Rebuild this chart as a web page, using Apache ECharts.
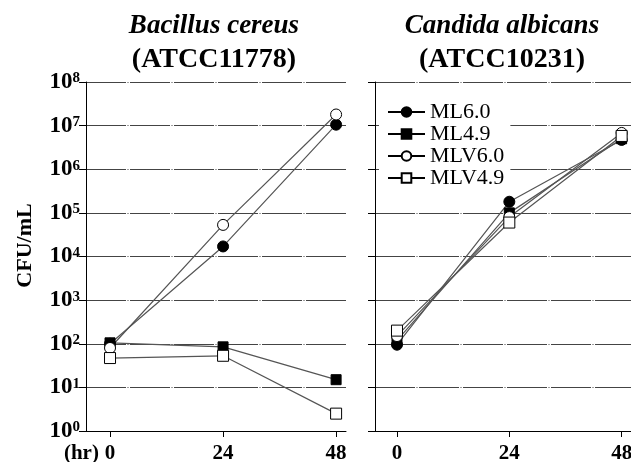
<!DOCTYPE html>
<html>
<head>
<meta charset="utf-8">
<script src="https://cdn.jsdelivr.net/npm/echarts@6/dist/echarts.min.js"></script>
<style>html,body{margin:0;padding:0;background:#fff}#c{width:631px;height:462px}</style>
</head>
<body>
<div id="c"></div>
<script>
var hours = [0, 24, 48];
var seriesNames = ['ML6.0', 'ML4.9', 'MLV6.0', 'MLV4.9'];
var panelTitles = ['Bacillus cereus', 'Candida albicans'];
var panelStrains = ['(ATCC11778)', '(ATCC10231)'];
var tickHours = [0, 24, 48];

// Bacillus cereus (CFU/mL)
var bcML60  = [100, 17000, 10500000];
var bcML49  = [105, 85, 15];
var bcMLV60 = [80, 53000, 18000000];
var bcMLV49 = [47, 53, 2.5];

// Candida albicans (CFU/mL)
var caML60  = [95, 180000, 4700000];
var caML49  = [120, 100000, 5000000];
var caMLV60 = [150, 80000, 6800000];
var caMLV49 = [200, 60000, 5800000];

var FONT = 'Liberation Serif';
var symbols = {
  'ML6.0':  {symbol: 'circle', size: 11, fill: '#000'},
  'ML4.9':  {symbol: 'rect',   size: 10, fill: '#000'},
  'MLV6.0': {symbol: 'circle', size: 11, fill: '#fff'},
  'MLV4.9': {symbol: 'rect',   size: 11, fill: '#fff'}
};

function mk(name, data, idx) {
  var s = symbols[name];
  return {
    name: name, type: 'line', xAxisIndex: idx, yAxisIndex: idx,
    data: hours.map(function (h, i) { return [h, data[i]]; }),
    symbol: s.symbol, symbolSize: s.size,
    lineStyle: {color: '#555', width: 1.2},
    itemStyle: {color: s.fill, borderColor: '#000', borderWidth: 1},
    emphasis: {disabled: true},
    z: 3
  };
}

function yAxis(idx, showLabel) {
  return {
    type: 'log', logBase: 10, min: 1, max: 1e8, interval: 1, gridIndex: idx,
    name: showLabel ? 'CFU/mL' : '', nameLocation: 'middle', nameGap: 50,
    nameTextStyle: {fontFamily: FONT, fontWeight: 'bold', fontSize: 22, color: '#000', padding: [0, 0, 0, 22]},
    axisLine: {show: true, onZero: false, lineStyle: {color: '#000', width: 1}},
    axisTick: {show: true, length: 7, inside: false, lineStyle: {color: '#000'}},
    splitLine: {show: true, lineStyle: {color: '#444', width: 1, type: [40, 1.5, 1, 1.5]}},
    axisLabel: {
      show: showLabel, margin: 6,
      formatter: function (v) { return '{b|10}{s|' + Math.round(Math.log10(v)) + '}'; },
      rich: {
        b: {fontFamily: FONT, fontWeight: 'bold', fontSize: 23, color: '#000', lineHeight: 22},
        s: {fontFamily: FONT, fontWeight: 'bold', fontSize: 15, color: '#000', verticalAlign: 'top', lineHeight: 12}
      }
    }
  };
}

function xAxis(idx, min, max, withName) {
  return {
    type: 'value', min: min, max: max, gridIndex: idx,
    name: withName ? '(hr)' : '', nameLocation: 'start', nameGap: 19,
    nameTextStyle: {fontFamily: FONT, fontWeight: 'bold', fontSize: 21, color: '#000', align: 'left', verticalAlign: 'top', padding: [12, 0, 0, 0]},
    axisLine: {show: true, onZero: false, lineStyle: {color: '#000', width: 1}},
    axisTick: {show: true, length: 6, customValues: tickHours, lineStyle: {color: '#000'}},
    splitLine: {show: false},
    axisLabel: {customValues: tickHours, margin: 12, fontFamily: FONT, fontWeight: 'bold', fontSize: 21, color: '#000'}
  };
}

var chart = echarts.init(document.getElementById('c'), null, {renderer: 'canvas'});
chart.setOption({
  backgroundColor: '#fff',
  animation: false,
  title: [0, 1].map(function (i) {
    return {
      text: panelTitles[i], subtext: panelStrains[i],
      left: i === 0 ? 209 : 497, top: 8, textAlign: 'center', itemGap: 6,
      textStyle: {fontFamily: FONT, fontWeight: 'bold', fontStyle: 'italic', fontSize: 27, color: '#000'},
      subtextStyle: {fontFamily: FONT, fontWeight: 'bold', fontSize: 28, color: '#000'}
    };
  }),
  grid: [
    {left: 86, right: 285, top: 82, bottom: 31, outerBoundsMode: 'none', containLabel: false},
    {left: 375, right: 0, top: 82, bottom: 31, outerBoundsMode: 'none', containLabel: false}
  ],
  xAxis: [xAxis(0, -5.1, 50.1, true), xAxis(1, -4.7, 50, false)],
  yAxis: [yAxis(0, true), yAxis(1, false)],
  legend: {
    data: seriesNames, orient: 'vertical', left: 379, top: 99,
    itemWidth: 37, itemHeight: 12, itemGap: 0,
    backgroundColor: '#fff', padding: [2, 6, 2, 8],
    lineStyle: {color: '#000', width: 2},
    textStyle: {fontFamily: FONT, fontSize: 22, color: '#000', lineHeight: 20.5},
    selectedMode: false
  },
  series: [
    mk('ML6.0', bcML60, 0), mk('ML4.9', bcML49, 0), mk('MLV6.0', bcMLV60, 0), mk('MLV4.9', bcMLV49, 0),
    mk('ML6.0', caML60, 1), mk('ML4.9', caML49, 1), mk('MLV6.0', caMLV60, 1), mk('MLV4.9', caMLV49, 1)
  ]
});
</script>
</body>
</html>
